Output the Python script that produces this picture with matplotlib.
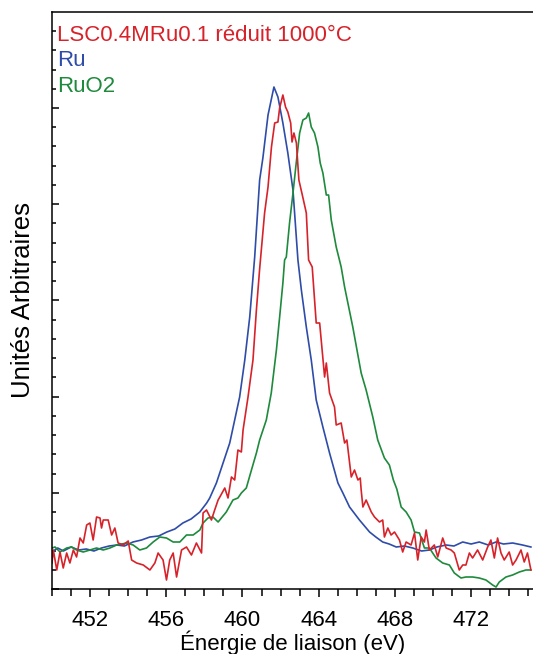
import matplotlib
matplotlib.use("Agg")
import matplotlib.pyplot as plt
from matplotlib.ticker import MultipleLocator, NullFormatter

plt.rcParams['font.family'] = ['Liberation Sans', 'DejaVu Sans']

# Binding energy (eV) and intensity (arbitrary units)
ru_x = [450.0, 450.3, 450.6, 451.0, 451.4, 451.8, 452.2, 452.6, 453.0, 453.41, 453.8, 454.25, 454.7,
        455.14, 455.6, 456.03, 456.45, 456.87, 457.3, 457.76, 458.12, 458.28, 458.63, 458.98, 459.33,
        459.59, 459.85, 460.12, 460.38, 460.64, 460.9, 461.07, 461.34, 461.65, 461.86, 462.12, 462.38,
        462.65, 462.91, 463.09, 463.35, 463.61, 463.87, 464.22, 464.57, 465.01, 465.27, 465.62, 466.14,
        466.67, 467.0, 467.36, 467.7, 468.07, 468.5, 468.94, 469.4, 469.81, 470.2, 470.69, 471.1, 471.56,
        472.0, 472.43, 472.9, 473.31, 473.7, 474.18, 474.7, 475.14]
ru_y = [37, 41, 38, 42, 39, 40, 38, 41, 43, 44, 43, 47, 49,
        52, 53, 57, 60, 66, 70, 77, 86, 91, 106, 126, 146,
        169, 192, 229, 272, 332, 409, 431, 474, 502, 492, 466, 436,
        399, 329, 299, 262, 229, 189, 162, 136, 106, 96, 82, 69,
        57, 52, 47, 45, 42, 43, 41, 38, 39, 42, 44, 43, 47,
        45, 47, 44, 47, 45, 46, 44, 42]

lsc_x = [450.0, 450.07, 450.25, 450.42, 450.59, 450.77, 450.94, 451.12, 451.29, 451.47, 451.64, 451.82,
         451.99, 452.16, 452.34, 452.52, 452.6, 452.69, 452.95, 453.13, 453.3, 453.47, 453.74, 454.0,
         454.18, 454.44, 454.79, 455.14, 455.4, 455.57, 455.83, 456.01, 456.18, 456.36, 456.54, 456.8,
         457.06, 457.32, 457.58, 457.85, 457.93, 458.11, 458.37, 458.54, 458.72, 458.81, 459.07, 459.24,
         459.42, 459.59, 459.76, 459.94, 460.03, 460.29, 460.55, 460.73, 460.9, 461.16, 461.34, 461.52,
         461.69, 461.86, 461.95, 462.12, 462.26, 462.38, 462.53, 462.6, 462.7, 462.83, 462.96, 463.14,
         463.35, 463.47, 463.66, 463.87, 464.05, 464.31, 464.4, 464.57, 464.83, 464.92, 465.18, 465.36,
         465.48, 465.71, 465.88, 466.06, 466.18, 466.23, 466.32, 466.49, 466.76, 466.93, 467.19, 467.36,
         467.45, 467.63, 467.8, 467.98, 468.24, 468.41, 468.59, 468.85, 469.03, 469.2, 469.38, 469.55,
         469.64, 469.81, 470.07, 470.25, 470.51, 470.69, 470.95, 471.12, 471.38, 471.56, 471.73, 471.91,
         472.08, 472.34, 472.61, 472.87, 473.04, 473.22, 473.39, 473.57, 473.74, 474.0, 474.18, 474.36,
         474.62, 474.79, 474.96, 475.14]
lsc_y = [26, 39, 19, 37, 21, 36, 26, 39, 32, 51, 46, 64,
         66, 49, 72, 71, 61, 69, 69, 54, 61, 46, 44, 48,
         29, 26, 24, 19, 26, 36, 29, 9, 29, 36, 12, 39,
         42, 34, 46, 36, 76, 79, 69, 79, 89, 92, 101, 91,
         112, 109, 139, 137, 159, 192, 229, 279, 320, 376, 402, 442,
         466, 467, 481, 494, 482, 477, 466, 447, 456, 446, 409, 394,
         376, 329, 322, 266, 266, 212, 226, 196, 182, 164, 166, 146,
         149, 112, 119, 109, 111, 99, 82, 89, 77, 72, 67, 69,
         52, 61, 54, 57, 49, 37, 47, 44, 56, 29, 52, 47,
         59, 39, 44, 32, 51, 41, 39, 36, 19, 24, 24, 36,
         31, 39, 29, 42, 49, 31, 51, 36, 29, 37, 24, 29,
         39, 27, 36, 19]

ruo2_x = [450.0, 450.16, 450.42, 450.77, 451.03, 451.29, 451.64, 451.99, 452.34, 452.69, 453.04, 453.39,
          453.92, 454.26, 454.61, 454.96, 455.31, 455.66, 456.01, 456.36, 456.71, 457.06, 457.41, 457.76,
          457.93, 458.19, 458.45, 458.72, 459.15, 459.5, 459.76, 459.94, 460.2, 460.47, 460.73, 460.9,
          461.25, 461.51, 461.78, 461.95, 462.12, 462.21, 462.3, 462.47, 462.65, 462.82, 463.0, 463.17,
          463.35, 463.47, 463.61, 463.78, 463.96, 464.08, 464.22, 464.4, 464.52, 464.66, 464.92, 465.18,
          465.36, 465.79, 466.23, 466.49, 466.84, 467.1, 467.45, 467.71, 467.92, 468.1, 468.33, 468.59,
          468.85, 469.03, 469.29, 469.55, 469.81, 470.16, 470.51, 470.86, 471.12, 471.47, 471.73, 472.08,
          472.43, 472.78, 473.13, 473.31, 473.48, 473.83, 474.18, 474.53, 474.88, 475.14]
ruo2_y = [41, 42, 37, 41, 42, 39, 37, 39, 41, 39, 41, 44,
          46, 44, 39, 41, 47, 52, 51, 47, 47, 54, 54, 59,
          66, 71, 72, 67, 77, 89, 91, 96, 101, 119, 136, 149,
          169, 196, 239, 272, 306, 329, 332, 366, 396, 426, 456, 469,
          471, 476, 462, 456, 442, 426, 416, 394, 394, 369, 342, 322,
          302, 262, 216, 199, 172, 149, 131, 124, 109, 100, 82, 77,
          69, 57, 56, 41, 41, 31, 26, 24, 16, 11, 12, 12,
          11, 9, 4, 2, 7, 12, 14, 17, 19, 19]

labels = ["LSC0.4MRu0.1 réduit 1000°C", "Ru", "RuO2"]
colors = ["#d7222a", "#2e4ca8", "#1e8a3c"]

W, H = 533, 654
fig = plt.figure(figsize=(W / 100, H / 100), dpi=100)
ax = fig.add_axes([52 / W, 1 - 589 / H, (W - 52) / W, (589 - 12) / H])

ax.plot(ru_x, ru_y, color=colors[1], lw=1.2)
ax.plot(ruo2_x, ruo2_y, color=colors[2], lw=1.2)
ax.plot(lsc_x, lsc_y, color=colors[0], lw=1.2)

ax.set_xlim(450, 475.25)
ax.set_ylim(0, 577)

ax.spines['right'].set_visible(False)
for s in ['left', 'top', 'bottom']:
    ax.spines[s].set_linewidth(1.1)

ax.xaxis.set_major_locator(MultipleLocator(4))
ax.xaxis.set_minor_locator(MultipleLocator(1))
ax.tick_params(axis='x', which='major', direction='out', length=6, width=1.1,
               labelsize=16, pad=9, top=False)
ax.tick_params(axis='x', which='minor', direction='out', length=5, width=1.1, top=False)

ax.yaxis.set_major_locator(MultipleLocator(96.2))
ax.yaxis.set_minor_locator(MultipleLocator(96.2 / 5))
ax.yaxis.set_major_formatter(NullFormatter())
ax.tick_params(axis='y', which='major', direction='in', length=5, width=1.1, right=False)
ax.tick_params(axis='y', which='minor', direction='in', length=3, width=1.1, right=False)

ax.set_xlabel("Énergie de liaison (eV)", fontsize=16, labelpad=0)
ax.set_ylabel("Unités Arbitraires", fontsize=18.5, labelpad=9)

for i, (lab, c) in enumerate(zip(labels, colors)):
    fig.text(57 / W, 1 - (41 + 25.5 * i) / H, lab, color=c, fontsize=16, va='baseline', ha='left')

fig.savefig("out.png", dpi=100)
